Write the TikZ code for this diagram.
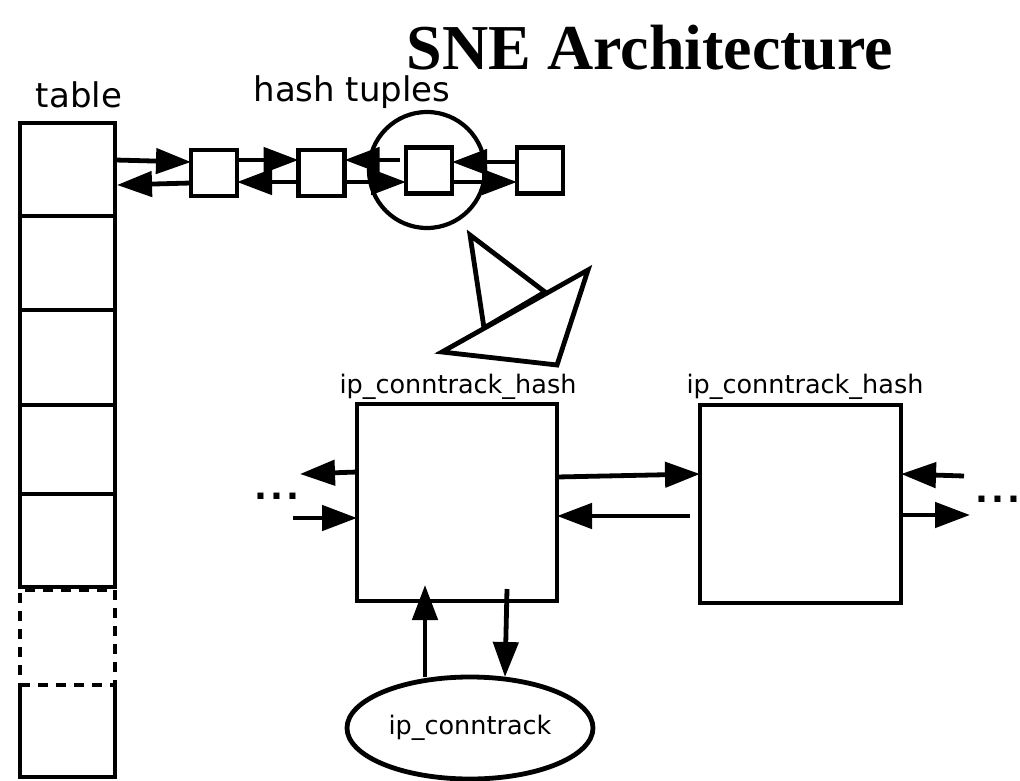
\documentclass[tikz,border=0pt]{standalone}
\usepackage{fontspec}
\setmainfont{DejaVu Sans}
\newfontfamily\titlefont{Liberation Serif}
\usetikzlibrary{arrows.meta,shapes.geometric,calc}
\begin{document}
\begin{tikzpicture}[x=1pt,y=-1pt,
  every node/.style={inner sep=0pt,outer sep=0pt},
  lw/.style={line width=4.8pt},
  cell/.style={draw,lw,minimum width=95pt},
  tup/.style={draw,lw,minimum width=46pt,minimum height=46pt},
  bigbox/.style={draw,lw,minimum width=200pt,minimum height=197pt},
  arr/.style={lw,-{Triangle[length=35pt,width=25pt]}},
  lbl/.style={font=\fontsize{25.5pt}{30pt}\selectfont},
  biglbl/.style={font=\fontsize{34pt}{40pt}\selectfont},
  dots/.style={font=\fontsize{34pt}{40pt}\selectfont\bfseries}
]
\useasboundingbox (0,0) rectangle (1020,781);
\fill[white] (0,0) rectangle (1020,781);

% title
\node[font=\fontsize{64pt}{70pt}\selectfont\titlefont\bfseries,anchor=base] (title) at (650,70) {SNE Architecture};

% table
\node[biglbl,anchor=base] (tlab) at (79,108) {table};
\node[cell,minimum height=93pt] (c1) at (67.5,169.5) {};
\node[cell,minimum height=94pt] (c2) at (67.5,263) {};
\node[cell,minimum height=95pt] (c3) at (67.5,357.5) {};
\node[cell,minimum height=89pt] (c4) at (67.5,449.5) {};
\node[cell,minimum height=93pt] (c5) at (67.5,540.5) {};
\node[cell,dashed,dash pattern=on 10pt off 8pt,minimum height=95pt] (c6) at (67.5,637.5) {};
\node[minimum width=95pt,minimum height=92pt] (c7) at (67.5,731) {};
\draw[lw] (c7.north west) -- (c7.south west) -- (c7.south east) -- (c7.north east);

% hash tuples
\node[biglbl,anchor=base] (hlab) at (352,102) {hash tuples};
\node[tup] (t1) at (214,173) {};
\node[tup] (t2) at (321.5,173) {};
\node[tup] (t3) at (429,170.5) {};
\node[tup] (t4) at (540,170.5) {};
\node[draw,line width=4.2pt,circle,minimum size=116pt] (tc) at (427,170) {};

\draw[arr] ([yshift=9.5pt]c1.east) -- ([yshift=11pt]t1.west);
\draw[arr] ([yshift=-10pt]t1.west) -- ([xshift=2pt,yshift=-15.5pt]c1.east);
\draw[arr] ([yshift=13pt]t1.east) -- ([yshift=13pt]t2.west);
\draw[arr] ([yshift=-9pt]t2.west) -- ([yshift=-9pt]t1.east);
\draw[arr] ([xshift=-6pt,yshift=10.5pt]t3.west) -- ([yshift=13pt]t2.east);
\draw[arr] ([yshift=-9pt]t2.east) -- ([yshift=-11.5pt]t3.west);
\draw[arr] ([xshift=-2pt,yshift=8.5pt]t4.west) -- ([yshift=8.5pt]t3.east);
\draw[arr] ([yshift=-11.5pt]t3.east) -- ([yshift=-11.5pt]t4.west);

% callout triangles
\filldraw[lw,fill=white,line join=miter] (470,235) -- (545,292) -- (484,328) -- cycle;
\filldraw[lw,fill=white,line join=miter] (442,352) -- (588,270) -- (557,365) -- cycle;

% ip_conntrack_hash boxes
\node[lbl,anchor=base] (bl1) at (458,393) {ip\_conntrack\_hash};
\node[lbl,anchor=base] (bl2) at (805,393) {ip\_conntrack\_hash};
\node[bigbox] (b1) at (457,502.5) {};
\node[bigbox,minimum width=201pt,minimum height=198pt] (b2) at (800.5,504) {};

\draw[arr] ([yshift=25.5pt]b1.east) -- ([yshift=30pt]b2.west);
\draw[arr] ([xshift=-10pt,yshift=-12pt]b2.west) -- ([yshift=-13.5pt]b1.east);

\coordinate (l1) at (300,474);
\coordinate (l2) at (293,518);
\draw[arr] ([yshift=30.5pt]b1.west) -- (l1);
\draw[arr] (l2) -- ([yshift=-15.5pt]b1.west);
\node[dots] (dl) at (277,496) {.\hspace{3pt}.\hspace{3pt}.};

\coordinate (r1) at (964,476);
\coordinate (r2) at (970,515);
\draw[arr] (r1) -- ([yshift=30pt]b2.east);
\draw[arr] ([yshift=-11pt]b2.east) -- (r2);
\node[dots] (dr) at (998,499) {.\hspace{3pt}.\hspace{3pt}.};

% ip_conntrack
\node[draw,lw,ellipse,minimum width=246pt,minimum height=102pt,lbl] (el) at (470,728) {ip\_conntrack};
\draw[arr] ([xshift=-45pt]el.north) -- ([xshift=-32pt,yshift=16pt]b1.south);
\draw[arr] ([xshift=50pt,yshift=12pt]b1.south) -- ([xshift=35pt]el.north);
\end{tikzpicture}
\end{document}
